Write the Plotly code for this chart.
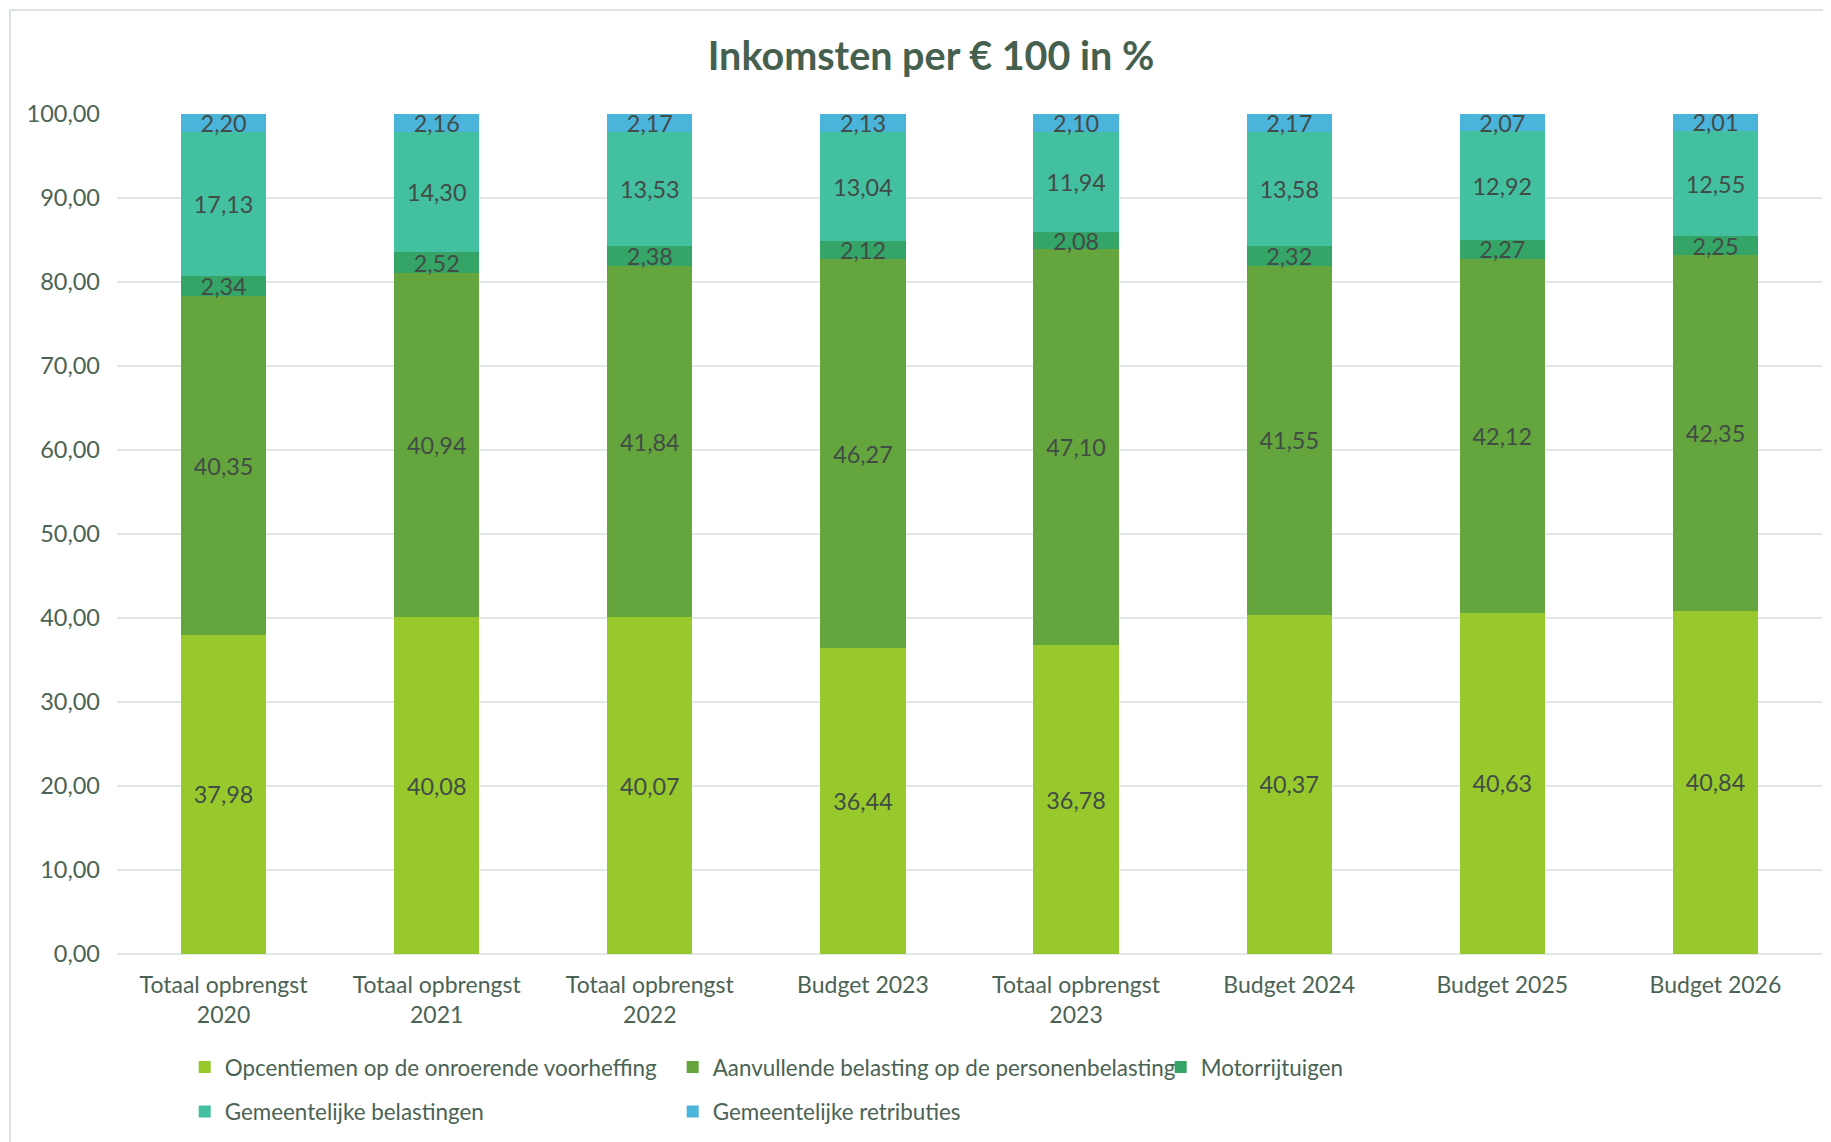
import plotly.graph_objects as go

CATEGORIES = [
    "Totaal opbrengst<br>2020", "Totaal opbrengst<br>2021", "Totaal opbrengst<br>2022",
    "Budget 2023", "Totaal opbrengst<br>2023", "Budget 2024", "Budget 2025", "Budget 2026",
]
OPCENTIEMEN = [37.98, 40.08, 40.07, 36.44, 36.78, 40.37, 40.63, 40.84]
AANVULLENDE = [40.35, 40.94, 41.84, 46.27, 47.10, 41.55, 42.12, 42.35]
MOTORRIJTUIGEN = [2.34, 2.52, 2.38, 2.12, 2.08, 2.32, 2.27, 2.25]
GEM_BELASTINGEN = [17.13, 14.30, 13.53, 13.04, 11.94, 13.58, 12.92, 12.55]
GEM_RETRIBUTIES = [2.20, 2.16, 2.17, 2.13, 2.10, 2.17, 2.07, 2.01]
Y_TICKS = [0, 10, 20, 30, 40, 50, 60, 70, 80, 90, 100]

SERIES = [
    ("Opcentiemen op de onroerende voorheffing", OPCENTIEMEN, "#97C92C", "legend"),
    ("Aanvullende belasting op de personenbelasting", AANVULLENDE, "#64A63D", "legend"),
    ("Motorrijtuigen", MOTORRIJTUIGEN, "#35A467", "legend"),
    ("Gemeentelijke belastingen", GEM_BELASTINGEN, "#42C0A0", "legend2"),
    ("Gemeentelijke retributies", GEM_RETRIBUTIES, "#4AB4DA", "legend2"),
]

FONT = "Lato"
TEXT_COL = "#4B6354"
LABEL_COL = "#424C46"
GRID = "#E2E8E5"

fig = go.Figure()
for name, vals, color, leg in SERIES:
    fig.add_trace(go.Bar(
        name=name, x=CATEGORIES, y=vals, marker=dict(color=color, line=dict(width=0)),
        texttemplate="%{y:.2f}", textposition="inside", insidetextanchor="middle",
        textangle=0, constraintext="none",
        textfont=dict(family=FONT, size=23.4, color=LABEL_COL),
        legend=leg,
    ))

legend_common = dict(
    orientation="h", x=0.0397, xanchor="left", yanchor="middle", traceorder="normal",
    font=dict(family=FONT, size=22.4, color=TEXT_COL), entrywidth=443,
    itemwidth=30, bgcolor="rgba(0,0,0,0)",
)

# the page body has an 8px margin, so margins are shifted by 8px
fig.update_layout(
    width=1831, height=1142, barmode="stack", bargap=0.6,
    separators=",.",
    paper_bgcolor="white", plot_bgcolor="white",
    margin=dict(l=109, r=17, t=106, b=196, autoexpand=False),
    title=dict(text="<b>Inkomsten per € 100 in %</b>", x=923 / 1831, xref="container", xanchor="center",
               y=1 - 48 / 1142, yref="container", yanchor="middle",
               font=dict(family=FONT, size=39.5, color="#46604F")),
    legend=dict(y=-0.135, **legend_common),
    legend2=dict(y=-0.188, **legend_common),
    yaxis=dict(range=[0, 100], tickvals=Y_TICKS, tickformat=".2f", showgrid=True, gridcolor=GRID,
               gridwidth=1.5, zeroline=True, zerolinecolor=GRID, zerolinewidth=1.5,
               ticklabelstandoff=16, tickfont=dict(family=FONT, size=23.5, color=TEXT_COL)),
    xaxis=dict(showgrid=False, ticklabelstandoff=15,
               tickfont=dict(family=FONT, size=23, color=TEXT_COL)),
    shapes=[dict(type="rect", xref="paper", yref="paper", x0=-0.0628, x1=1.02, y0=-0.25, y1=1.1238,
                 line=dict(color="#DCE5E2", width=2), layer="below")],
)

fig.write_html("out.html")
